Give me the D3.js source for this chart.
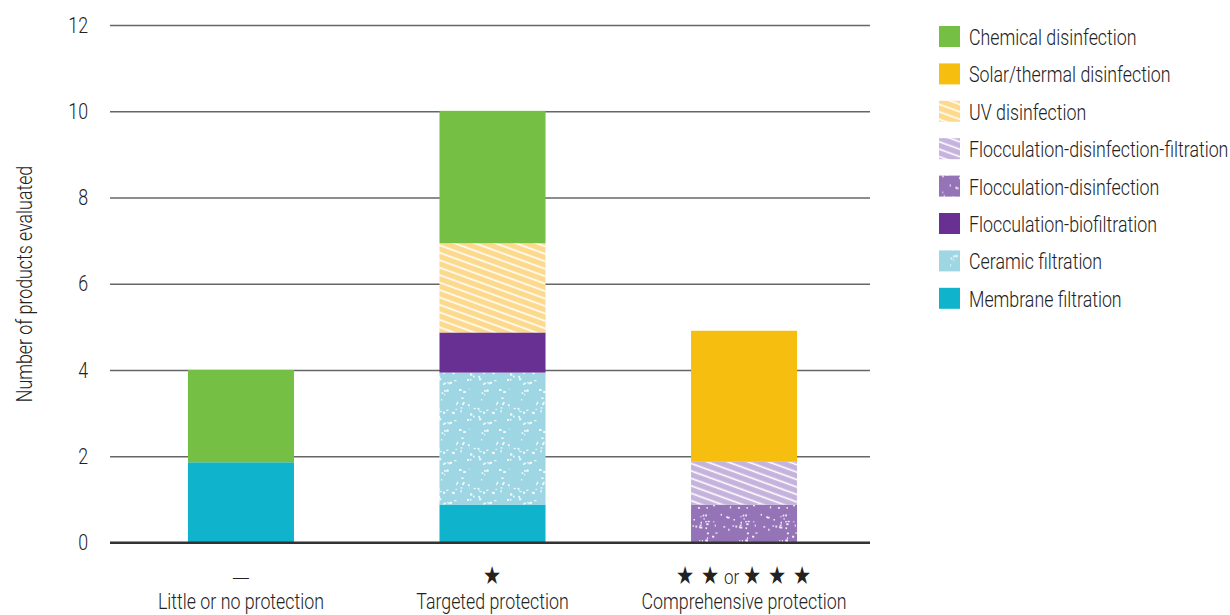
<!DOCTYPE html>
<html>
<head>
<meta charset="utf-8">
<script src="https://cdn.jsdelivr.net/npm/d3@7"></script>
<style>
  body { margin: 0; background: #fff; }
  svg text { font-family: Roboto, "Noto Sans", sans-serif; font-weight: 300; fill: #222; }
</style>
</head>
<body>
<div id="chart"></div>
<script>
var margin = {top: 25, right: 360, bottom: 72, left: 110}

var categories = ["Little or no protection", "Targeted protection", "Comprehensive protection"];
var ratings = ["—", "★", "★ ★ or ★ ★ ★"];
var methods = ["Chemical disinfection", "Solar/thermal disinfection", "UV disinfection",
  "Flocculation-disinfection-filtration", "Flocculation-disinfection", "Flocculation-biofiltration",
  "Ceramic filtration", "Membrane filtration"];

// segment heights per category
var chemical  = [2.14, 3.07, 0];
var solar     = [0, 0, 3.04];
var uv        = [0, 2.07, 0];
var floccDisFilt = [0, 0, 0.99];
var floccDis  = [0, 0, 0.88];
var floccBio  = [0, 0.93, 0];
var ceramic   = [0, 3.06, 0];
var membrane  = [1.86, 0.88, 0];

var yTicks = [0, 2, 4, 6, 8, 10, 12];

var width = 1230, height = 615;
var pltwidth = width - margin.left - margin.right,
    pltheight = height - margin.top - margin.bottom;

var series = [chemical, solar, uv, floccDisFilt, floccDis, floccBio, ceramic, membrane];
var table = categories.map(function(c, i) {
  var row = {cat: c};
  methods.forEach(function(m, j) { row[m] = series[j][i]; });
  return row;
});

var svg = d3.select("#chart").append("svg")
    .attr("width", width)
    .attr("height", height);

// the original uses a narrow face; squeeze text horizontally to match
var probe = svg.append("text").style("font-size", "22px").text("Little or no protection");
var k = 166 / probe.node().getComputedTextLength();
probe.remove();

function squeeze(sel, x) {
  sel.attr("transform", function() {
    var xx = x != null ? x : (+d3.select(this).attr("x") || 0);
    return "translate(" + xx + ",0) scale(" + k + ",1) translate(" + (-xx) + ",0)";
  });
}

// fills: flat colours and textures
var defs = svg.append("defs");

function stripes(id, bg) {
  var p = defs.append("pattern")
      .attr("id", id)
      .attr("patternUnits", "userSpaceOnUse")
      .attr("width", 7).attr("height", 7)
      .attr("patternTransform", "rotate(20)");
  p.append("rect").attr("width", 7).attr("height", 7).attr("fill", bg);
  p.append("rect").attr("y", 2.5).attr("width", 7).attr("height", 1.6).attr("fill", "#fff");
}

function speckle(id, bg, seed) {
  var s = seed;
  function rnd() { s = (s * 16807) % 2147483647; return s / 2147483647; }
  var p = defs.append("pattern")
      .attr("id", id)
      .attr("patternUnits", "userSpaceOnUse")
      .attr("width", 40).attr("height", 40);
  p.append("rect").attr("width", 40).attr("height", 40).attr("fill", bg);
  for (var n = 0; n < 40; n++) {
    p.append("rect")
      .attr("x", rnd() * 40).attr("y", rnd() * 40)
      .attr("width", 1 + rnd() * 1.6).attr("height", 1 + rnd() * 1.2)
      .attr("fill", "#fff").attr("opacity", 0.9);
  }
}

stripes("uvPat", "#fcd98c");
stripes("fdfPat", "#c5b3dd");
speckle("fdPat", "#9474b7", 7);
speckle("cerPat", "#9fd6e4", 13);

var fills = ["#74bf44", "#f6bf10", "url(#uvPat)", "url(#fdfPat)", "url(#fdPat)", "#683092", "url(#cerPat)", "#10b3cc"];
var color = d3.scaleOrdinal().domain(methods).range(fills);

var g = svg.append("g")
    .attr("transform", "translate(" + margin.left + "," + margin.top + ")");

var xScale = d3.scaleBand()
    .domain(categories)
    .range([5.25, 759.75])
    .paddingInner(0.5785)
    .paddingOuter(0.289);

var yScale = d3.scaleLinear()
    .domain([0, 12])
    .range([517.5, 0]);

// gridlines + tick labels
var yAxis = g.append("g")
    .attr("class", "y axis")
    .call(d3.axisLeft(yScale).tickValues(yTicks).tickSize(-760).tickPadding(22));
yAxis.select(".domain").remove();
yAxis.selectAll(".tick line")
    .attr("stroke", function(d) { return d === 0 ? "#333" : "#666"; })
    .attr("stroke-width", function(d) { return d === 0 ? 2 : 1.5; });
yAxis.selectAll(".tick text")
    .style("font-size", "22px")
    .attr("fill", "#222")
    .call(squeeze);

// stacked bars
var keys = methods.slice().reverse();
var stacked = d3.stack().keys(keys)(table);

g.append("g").selectAll("g")
    .data(stacked)
  .enter().append("g")
    .attr("fill", function(d) { return color(d.key); })
  .selectAll("rect")
    .data(function(d) { return d; })
  .enter().append("rect")
    .filter(function(d) { return d[1] - d[0] > 0; })
    .attr("x", function(d) { return xScale(d.data.cat); })
    .attr("y", function(d) { return yScale(d[1]); })
    .attr("width", xScale.bandwidth())
    .attr("height", function(d) { return yScale(d[0]) - yScale(d[1]); });

// redraw baseline on top
g.append("line")
    .attr("x1", 0).attr("x2", 760)
    .attr("y1", yScale(0)).attr("y2", yScale(0))
    .attr("stroke", "#333").attr("stroke-width", 2);

// category labels with star ratings
var xlab = g.append("g").selectAll("g")
    .data(categories)
  .enter().append("g")
    .attr("transform", function(d) {
      return "translate(" + (xScale(d) + xScale.bandwidth() / 2) + "," + pltheight + ")";
    });

xlab.append("text")
    .attr("y", 66)
    .attr("text-anchor", "middle")
    .style("font-size", "22px")
    .text(function(d) { return d; })
    .call(squeeze, 0);

xlab.append("text")
    .attr("y", 41)
    .attr("text-anchor", "middle")
    .style("font-size", "22px")
    .each(function(d, i) {
      var t = d3.select(this);
      if (ratings[i].indexOf(" or ") < 0) {
        t.append("tspan").style("font-family", "DejaVu Sans")
          .style("font-size", i === 1 ? "25px" : "22px").text(ratings[i]);
      } else {
        var parts = ratings[i].split(" or ");
        t.append("tspan").style("font-family", "DejaVu Sans").style("font-size", "25px").text(parts[0]);
        t.append("tspan").style("font-size", "21px").text(" or ");
        t.append("tspan").style("font-family", "DejaVu Sans").style("font-size", "25px").text(parts[1]);
      }
    })
    .call(squeeze, 0);

// y title
svg.append("text")
    .attr("transform", "translate(32," + (margin.top + 259) + ") rotate(-90) scale(" + k + ",1)")
    .attr("text-anchor", "middle")
    .style("font-size", "22px")
    .text("Number of products evaluated");

// legend
var legend = svg.append("g")
    .attr("transform", "translate(939,26)")
  .selectAll("g")
    .data(methods)
  .enter().append("g")
    .attr("transform", function(d, i) { return "translate(0," + (i * 37.4) + ")"; });

legend.append("rect")
    .attr("width", 21)
    .attr("height", 21)
    .attr("fill", function(d) { return color(d); });

legend.append("text")
    .attr("x", 30)
    .attr("y", 19)
    .style("font-size", "22px")
    .text(function(d) { return d; })
    .call(squeeze, 30);
</script>
</body>
</html>
